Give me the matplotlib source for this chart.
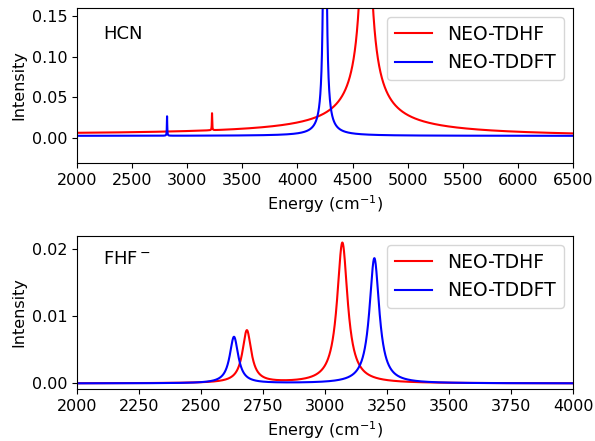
import numpy as np
import matplotlib
matplotlib.use("Agg")
import matplotlib.pyplot as plt

# ---------------- data (peak parameters) ----------------
# HCN panel
hcn_label = "HCN"
hcn_xticks = [2000, 2500, 3000, 3500, 4000, 4500, 5000, 5500, 6000, 6500]
hcn_yticks = [0.00, 0.05, 0.10, 0.15]

hcn_tdhf_centers = [3225.0, 4621.0]
hcn_tdhf_heights = [0.021, 0.545]
hcn_tdhf_widths = [2.0, 20.0]
hcn_tdhf_orders = [1.0, 0.5]
hcn_tdhf_skews = [0.0, 0.4]
hcn_tdhf_base = 0.0

hcn_tddft_centers = [2817.0, 4249.0]
hcn_tddft_heights = [0.024, 1.42]
hcn_tddft_widths = [2.0, 5.0]
hcn_tddft_orders = [1.0, 0.78]
hcn_tddft_skews = [0.0, 0.0]
hcn_tddft_base = 0.002

# FHF- panel
fhf_label = r"FHF$^-$"
fhf_xticks = [2000, 2250, 2500, 2750, 3000, 3250, 3500, 3750, 4000]
fhf_yticks = [0.00, 0.01, 0.02]

fhf_tdhf_centers = [2685.0, 3070.0]
fhf_tdhf_heights = [0.0078, 0.0209]
fhf_tdhf_widths = [21.0, 25.0]
fhf_tdhf_orders = [0.95, 0.95]
fhf_tdhf_skews = [0.0, 0.0]
fhf_tdhf_base = 0.0

fhf_tddft_centers = [2633.0, 3199.0]
fhf_tddft_heights = [0.0069, 0.0186]
fhf_tddft_widths = [21.0, 24.0]
fhf_tddft_orders = [1.0, 1.0]
fhf_tddft_skews = [0.0, 0.0]
fhf_tddft_base = 0.0

series_names = ["NEO-TDHF", "NEO-TDDFT"]
series_colors = ["red", "blue"]


def spectrum(x, centers, heights, widths, orders, skews, base):
    y = np.full_like(x, base, dtype=float)
    for c, h, g, q, s in zip(centers, heights, widths, orders, skews):
        y += h * (c / x) ** s / (1.0 + ((x - c) / g) ** 2) ** q
    return y


fig = plt.figure(figsize=(5.95, 4.41), dpi=100)
ax1 = fig.add_axes([77 / 595, 1 - 163 / 441, 496 / 595, 155 / 441])
ax2 = fig.add_axes([77 / 595, 1 - 389 / 441, 496 / 595, 153 / 441])

fs_tick = 11.5
fs_leg = 13.5

# top panel
x1 = np.arange(2000.0, 6500.01, 0.25)
y1a = spectrum(x1, hcn_tdhf_centers, hcn_tdhf_heights, hcn_tdhf_widths,
               hcn_tdhf_orders, hcn_tdhf_skews, hcn_tdhf_base)
y1b = spectrum(x1, hcn_tddft_centers, hcn_tddft_heights, hcn_tddft_widths,
               hcn_tddft_orders, hcn_tddft_skews, hcn_tddft_base)
ax1.plot(x1, y1a, color=series_colors[0], lw=1.5, label=series_names[0])
ax1.plot(x1, y1b, color=series_colors[1], lw=1.5, label=series_names[1])
ax1.set_xlim(2000, 6500)
ax1.set_ylim(-0.0315, 0.16)
ax1.set_xticks(hcn_xticks)
ax1.set_yticks(hcn_yticks)
ax1.tick_params(labelsize=fs_tick)
ax1.set_xlabel(r"Energy (cm$^{-1}$)", fontsize=fs_tick)
ax1.set_ylabel("Intensity", fontsize=fs_tick)
ax1.text(0.052, 0.835, hcn_label, transform=ax1.transAxes, fontsize=13,
         ha="left", va="center")
ax1.legend(loc="upper right", fontsize=fs_leg)

# bottom panel
x2 = np.arange(2000.0, 4000.01, 0.25)
y2a = spectrum(x2, fhf_tdhf_centers, fhf_tdhf_heights, fhf_tdhf_widths,
               fhf_tdhf_orders, fhf_tdhf_skews, fhf_tdhf_base)
y2b = spectrum(x2, fhf_tddft_centers, fhf_tddft_heights, fhf_tddft_widths,
               fhf_tddft_orders, fhf_tddft_skews, fhf_tddft_base)
ax2.plot(x2, y2a, color=series_colors[0], lw=1.5, label=series_names[0])
ax2.plot(x2, y2b, color=series_colors[1], lw=1.5, label=series_names[1])
ax2.set_xlim(2000, 4000)
ax2.set_ylim(-0.00083, 0.0219)
ax2.set_xticks(fhf_xticks)
ax2.set_yticks(fhf_yticks)
ax2.tick_params(labelsize=fs_tick)
ax2.set_xlabel(r"Energy (cm$^{-1}$)", fontsize=fs_tick)
ax2.set_ylabel("Intensity", fontsize=fs_tick)
ax2.text(0.052, 0.85, fhf_label, transform=ax2.transAxes, fontsize=13,
         ha="left", va="center")
ax2.legend(loc="upper right", fontsize=fs_leg)

fig.savefig("out.png", dpi=100)
